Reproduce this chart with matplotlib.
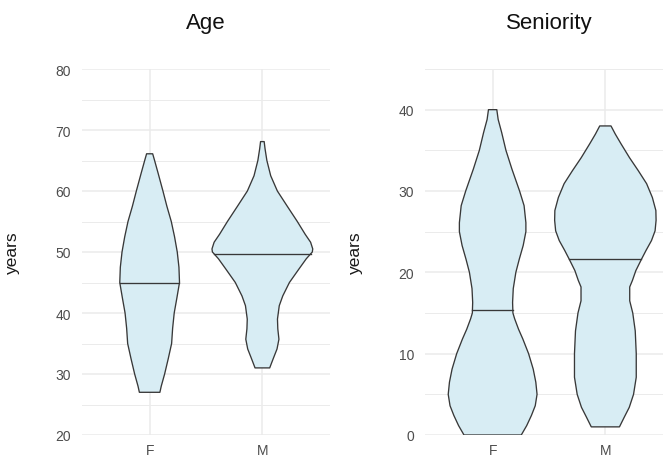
import numpy as np
import matplotlib
matplotlib.use('Agg')
import matplotlib.pyplot as plt

plt.rcParams['font.family'] = ['Liberation Sans', 'DejaVu Sans']

categories = ['F', 'M']

# violin outlines: y value and half width (category units)
age_f_y = [27, 28, 30, 32.5, 35, 37.5, 40, 42.5, 45, 47.5, 50, 52.5, 55, 57.5, 60, 63, 65, 66.1]
age_f_w = [0.091, 0.103, 0.133, 0.165, 0.195, 0.204, 0.218, 0.242, 0.265, 0.26, 0.245,
           0.221, 0.192, 0.153, 0.118, 0.074, 0.044, 0.027]
age_m_y = [31, 32.5, 34.1, 35.7, 37.4, 39, 41.2, 42.8, 45, 47.2, 48.9, 50, 50.5, 51.6,
           52.9, 55, 57.5, 60, 62.5, 65, 66.9, 68.1]
age_m_w = [0.065, 0.096, 0.13, 0.147, 0.137, 0.134, 0.15, 0.181, 0.24, 0.324, 0.39, 0.443,
           0.447, 0.428, 0.38, 0.31, 0.221, 0.133, 0.074, 0.04, 0.024, 0.016]

sen_f_y = [0, 1.15, 2.4, 3.6, 5, 6.5, 8.1, 10, 11.8, 13, 14.3, 15, 16.3, 18, 20, 21.6,
           23.3, 25, 26.1, 28.2, 30, 32.7, 35, 37.2, 38.8, 40]
sen_f_w = [0.254, 0.302, 0.344, 0.378, 0.394, 0.383, 0.36, 0.319, 0.268, 0.23, 0.195,
           0.18, 0.177, 0.183, 0.206, 0.236, 0.271, 0.295, 0.295, 0.279, 0.239, 0.171,
           0.118, 0.08, 0.049, 0.037]
sen_m_y = [1, 2.2, 3.4, 5, 7.1, 10, 12.8, 15, 16.5, 18.2, 19, 20.2, 21.6, 22.7, 23.9,
           25.1, 26.4, 27.6, 29.2, 30.9, 32.5, 34.1, 35.8, 37, 38]
sen_m_w = [0.125, 0.168, 0.212, 0.25, 0.274, 0.274, 0.265, 0.243, 0.216, 0.216, 0.24,
           0.27, 0.32, 0.361, 0.409, 0.441, 0.45, 0.448, 0.417, 0.366, 0.292, 0.214,
           0.139, 0.088, 0.05]

age_medians = [44.9, 49.7]
sen_medians = [15.4, 21.6]

fill_col = '#d8edf4'
line_col = '#383838'
grid_col = '#ebebeb'


def draw_violin(ax, pos, ys, ws, median):
    """draw one violin from its outline plus the median line"""
    ys = np.array(ys)
    ws = np.array(ws)
    xs = np.concatenate([pos + ws, (pos - ws)[::-1]])
    yy = np.concatenate([ys, ys[::-1]])
    ax.fill(xs, yy, facecolor=fill_col, edgecolor=line_col, linewidth=0.95,
            joinstyle='round', zorder=3)
    hw = np.interp(median, ys, ws)
    ax.plot([pos - hw, pos + hw], [median, median], color=line_col, linewidth=0.95, zorder=4)


def setup_panel(ax, title, ymin, ymax):
    """minimal-theme look for each panel"""
    ax.set_xlim(-0.6, 1.6)
    ax.set_ylim(ymin, ymax)
    ax.set_xticks(range(len(categories)))
    ax.set_xticklabels(categories)
    ax.set_yticks(np.arange(ymin, ymax + 1, 10))
    ax.set_yticks(np.arange(ymin + 5, ymax + 1, 10), minor=True)
    ax.grid(True, which='major', color=grid_col, linewidth=1.1, zorder=0)
    ax.grid(True, which='minor', axis='y', color=grid_col, linewidth=0.7, zorder=0)
    ax.set_axisbelow(True)
    for s in ax.spines.values():
        s.set_visible(False)
    ax.tick_params(which='both', length=0, labelsize=10, labelcolor='#4d4d4d')
    ax.tick_params(axis='x', pad=6)
    ax.tick_params(axis='y', pad=8)
    ax.set_ylabel('years', fontsize=12.5, color='#1a1a1a')
    ax.yaxis.set_label_coords(-0.25, 0.5)
    ax.text(0.5, 1.111, title, transform=ax.transAxes, ha='center', va='baseline',
            fontsize=16, color='#111111')


fig = plt.figure(figsize=(6.63, 4.60), dpi=100)
ax1 = fig.add_axes([82 / 663, 24 / 460, 248 / 663, 366 / 460])
ax2 = fig.add_axes([425 / 663, 24 / 460, 248 / 663, 366 / 460])

setup_panel(ax1, 'Age', 20, 80)
draw_violin(ax1, 0, age_f_y, age_f_w, age_medians[0])
draw_violin(ax1, 1, age_m_y, age_m_w, age_medians[1])

setup_panel(ax2, 'Seniority', 0, 45)
ax2.set_yticks(np.arange(0, 41, 10))
ax2.set_yticks(np.arange(5, 46, 10), minor=True)
draw_violin(ax2, 0, sen_f_y, sen_f_w, sen_medians[0])
draw_violin(ax2, 1, sen_m_y, sen_m_w, sen_medians[1])

plt.savefig('out.png', dpi=100)
plt.close()
